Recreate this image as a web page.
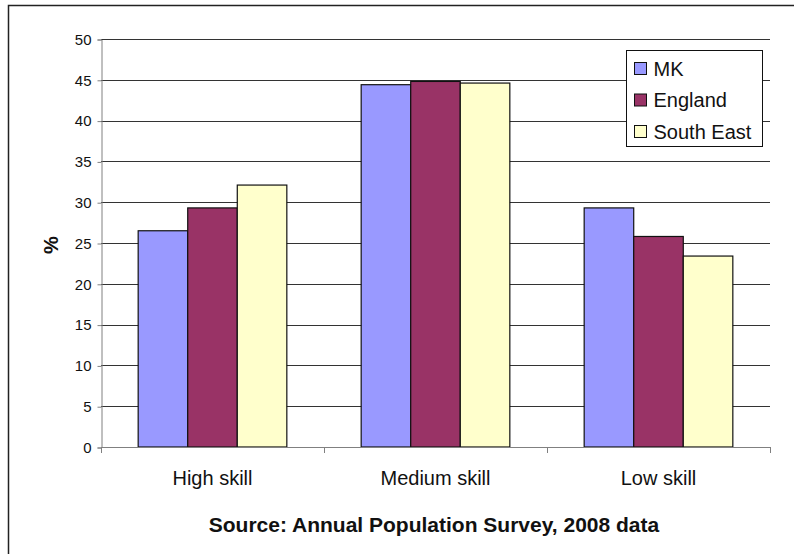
<!DOCTYPE html>
<html>
<head>
<meta charset="utf-8">
<script src="https://cdn.jsdelivr.net/npm/d3@7"></script>
<style>
  body { margin: 0; background: #fff; }
  svg { display: block; font-family: 'Liberation Sans', Arial, sans-serif; }
</style>
</head>
<body>
<div id="chart"></div>
<script>
const categories = ['High skill', 'Medium skill', 'Low skill'];
const seriesNames = ['MK', 'England', 'South East'];
const mkValues = [26.5, 44.4, 29.3];
const englandValues = [29.3, 44.8, 25.8];
const southEastValues = [32.1, 44.6, 23.4];
const yTicks = [0, 5, 10, 15, 20, 25, 30, 35, 40, 45, 50];
const colors = ['#9999FF', '#993366', '#FFFFCC'];

const seriesValues = [mkValues, englandValues, southEastValues];

const width = 794;
const height = 554;
const plot = { left: 101, right: 770, top: 39, bottom: 447 };

const svg = d3
  .select('#chart')
  .append('svg')
  .attr('width', width)
  .attr('height', height);

// outer chart frame (right/bottom edges are cropped off)
svg
  .append('rect')
  .attr('x', 8.5)
  .attr('y', 5.5)
  .attr('width', width + 10)
  .attr('height', height + 10)
  .attr('fill', '#fff')
  .attr('stroke', '#222')
  .attr('stroke-width', 1.5);

// x scales: one band per category, one band per series inside it
const xScale = d3
  .scaleBand()
  .domain(categories)
  .range([plot.left, plot.right])
  .padding(0);

const xInner = d3
  .scaleBand()
  .domain(seriesNames)
  .range([0, xScale.bandwidth()])
  .paddingInner(0)
  .paddingOuter(0.75);

// y scale
const yScale = d3
  .scaleLinear()
  .domain([0, 50])
  .range([plot.bottom, plot.top]);

// gridlines
svg
  .append('g')
  .selectAll('line')
  .data(yTicks.filter(d => d > 0))
  .enter()
  .append('line')
  .attr('x1', plot.left)
  .attr('x2', plot.right)
  .attr('y1', d => Math.round(yScale(d)) + 0.5)
  .attr('y2', d => Math.round(yScale(d)) + 0.5)
  .attr('stroke', '#333')
  .attr('stroke-width', 1);

// y axis
const yAxis = d3
  .axisLeft(yScale)
  .tickValues(yTicks)
  .tickSize(4)
  .tickPadding(6)
  .tickFormat(d3.format('d'));

const yAxisG = svg
  .append('g')
  .attr('transform', `translate(${plot.left + 0.5},0.5)`)
  .call(yAxis);
yAxisG.selectAll('path, line').attr('stroke', '#808080');
yAxisG
  .selectAll('text')
  .attr('font-size', 15)
  .attr('font-family', "'Liberation Sans', Arial, sans-serif")
  .attr('fill', '#111');

// bars
const groups = svg
  .append('g')
  .selectAll('g')
  .data(seriesNames)
  .enter()
  .append('g')
  .attr('fill', (d, i) => colors[i]);

groups
  .selectAll('rect')
  .data((name, si) => categories.map((c, ci) => ({ name, category: c, value: seriesValues[si][ci] })))
  .enter()
  .append('rect')
  .attr('x', d => xScale(d.category) + xInner(d.name))
  .attr('y', d => yScale(d.value))
  .attr('width', xInner.bandwidth())
  .attr('height', d => plot.bottom - yScale(d.value))
  .attr('stroke', '#111')
  .attr('stroke-width', 1.2);

// x axis line with ticks on category boundaries
const boundaries = categories.map(c => xScale(c)).concat([plot.right]);
svg
  .append('line')
  .attr('x1', plot.left)
  .attr('x2', plot.right)
  .attr('y1', plot.bottom + 0.5)
  .attr('y2', plot.bottom + 0.5)
  .attr('stroke', '#808080')
  .attr('stroke-width', 1.2);
svg
  .append('g')
  .selectAll('line')
  .data(boundaries)
  .enter()
  .append('line')
  .attr('x1', d => Math.round(d) + 0.5)
  .attr('x2', d => Math.round(d) + 0.5)
  .attr('y1', plot.bottom)
  .attr('y2', plot.bottom + 6)
  .attr('stroke', '#808080');

// category labels
svg
  .append('g')
  .selectAll('text')
  .data(categories)
  .enter()
  .append('text')
  .attr('x', d => xScale(d) + xScale.bandwidth() / 2)
  .attr('y', 485)
  .attr('text-anchor', 'middle')
  .attr('font-size', 20)
  .attr('fill', '#111')
  .text(d => d);

// axis titles
svg
  .append('text')
  .attr('transform', 'translate(58,245) rotate(-90)')
  .attr('text-anchor', 'middle')
  .attr('font-size', 20)
  .attr('font-weight', 'bold')
  .attr('fill', '#111')
  .text('%');

svg
  .append('text')
  .attr('x', 434)
  .attr('y', 532)
  .attr('text-anchor', 'middle')
  .attr('font-size', 21)
  .attr('font-weight', 'bold')
  .attr('fill', '#111')
  .text('Source: Annual Population Survey, 2008 data');

// legend
const legend = svg.append('g').attr('transform', 'translate(626.5,50.5)');
legend
  .append('rect')
  .attr('width', 136)
  .attr('height', 96)
  .attr('fill', '#fff')
  .attr('stroke', '#111');

const legendItems = legend
  .selectAll('g')
  .data(seriesNames)
  .enter()
  .append('g')
  .attr('transform', (d, i) => `translate(8,${18 + i * 31.5})`);

legendItems
  .append('rect')
  .attr('x', 0)
  .attr('y', -6)
  .attr('width', 12)
  .attr('height', 12)
  .attr('fill', (d, i) => colors[i])
  .attr('stroke', '#111');

legendItems
  .append('text')
  .attr('x', 19)
  .attr('y', 7)
  .attr('font-size', 20)
  .attr('fill', '#111')
  .text(d => d);
</script>
</body>
</html>
